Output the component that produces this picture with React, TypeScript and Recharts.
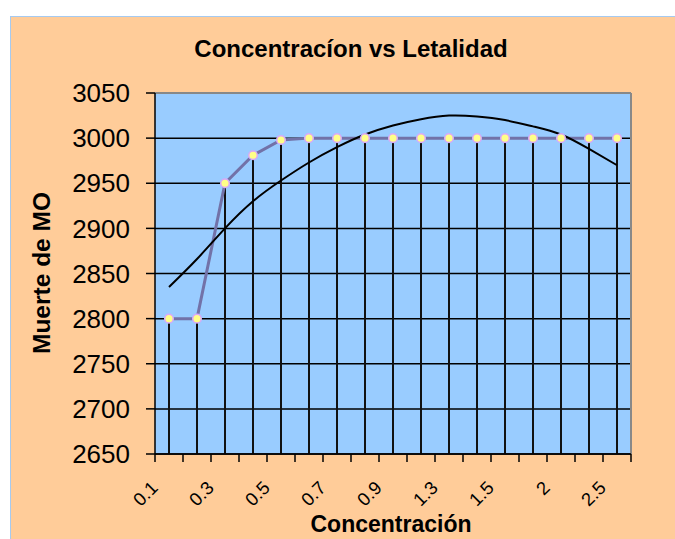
import React from "react";
import {
  ComposedChart,
  Line,
  Bar,
  XAxis,
  YAxis,
  CartesianGrid,
  ReferenceLine,
} from "recharts";

const categories = ["0.1", "0.2", "0.3", "0.4", "0.5", "0.6", "0.7", "0.8", "0.9", "1", "1.3", "1.4", "1.5", "1.8", "2", "2.3", "2.5"];
const muerteValues = [2800, 2800, 2950, 2981, 2998, 3000, 3000, 3000, 3000, 3000, 3000, 3000, 3000, 3000, 3000, 3000, 3000];
const trendValues = [2835, 2866, 2900, 2930, 2953, 2973, 2990, 3004, 3014, 3021, 3025, 3024, 3020, 3013, 3004, 2988, 2970];
const yTicks = [2650, 2700, 2750, 2800, 2850, 2900, 2950, 3000, 3050];
const xBoundaries = [-0.5, 0.5, 1.5, 2.5, 3.5, 4.5, 5.5, 6.5, 7.5, 8.5, 9.5, 10.5, 11.5, 12.5, 13.5, 14.5, 15.5, 16.5];

const data = categories.map((c, i) => ({
  idx: i,
  cat: c,
  muerte: muerteValues[i],
  trend: trendValues[i],
}));

const FONT = "'Liberation Sans', Arial, sans-serif";

const XTick = (props: any) => {
  const { x, y, payload } = props;
  const i = Math.round(payload.value + 0.5);
  if (i % 2 !== 0 || i > 16) return null;
  const ax = x + 4;
  const ay = y + 25;
  return (
    <text
      x={ax}
      y={ay}
      textAnchor="end"
      fontSize={18.5}
      fontFamily={FONT}
      fill="#000"
      transform={`rotate(-45 ${ax} ${ay})`}
    >
      {categories[i]}
    </text>
  );
};

const Dot = (props: any) => {
  const { cx, cy } = props;
  if (cx == null || cy == null) return null;
  return <circle cx={cx} cy={cy} r={4.3} fill="#FFFF88" stroke="#D8A8F8" strokeWidth={1.5} />;
};

export default function App() {
  return (
    <div style={{ position: "absolute", left: 0, top: 0, width: 675, height: 539, background: "#fff", overflow: "hidden" }}>
      <div
        style={{
          position: "absolute",
          left: 10,
          top: 16,
          width: 665,
          height: 523,
          background: "#FFCC99",
          borderLeft: "1.5px solid #A6CAF0",
          borderTop: "1.5px solid #A6CAF0",
          boxSizing: "border-box",
        }}
      />
      <div style={{ position: "absolute", left: 0, top: 0 }}>
        <ComposedChart
          width={675}
          height={539}
          data={data}
          margin={{ top: 93, right: 44, left: 0, bottom: 0 }}
        >
          <CartesianGrid vertical={false} stroke="#000" strokeWidth={1.5} fill="#99CCFF" fillOpacity={1} />
          <XAxis
            dataKey="idx"
            type="number"
            domain={[-0.5, 16.5]}
            ticks={xBoundaries}
            interval={0}
            height={85}
            tickSize={8}
            tickMargin={2}
            tick={<XTick />}
            axisLine={{ stroke: "#000", strokeWidth: 1.5 }}
            tickLine={{ stroke: "#000", strokeWidth: 1.5 }}
          />
          <YAxis
            type="number"
            domain={[2650, 3050]}
            ticks={yTicks}
            interval={0}
            width={155}
            tickSize={9}
            tickMargin={16}
            tick={{ fontSize: 26, fill: "#000", fontFamily: FONT }}
            axisLine={{ stroke: "#000", strokeWidth: 1.5 }}
            tickLine={{ stroke: "#000", strokeWidth: 1.5 }}
          />
          <ReferenceLine y={3050} stroke="#888888" strokeWidth={2} />
          <ReferenceLine x={16.5} stroke="#888888" strokeWidth={2} />
          <Bar dataKey="muerte" barSize={2} fill="#111" isAnimationActive={false} />
          <Line
            dataKey="muerte"
            type="linear"
            stroke="#7272A8"
            strokeWidth={3}
            dot={<Dot />}
            activeDot={false}
            isAnimationActive={false}
          />
          <Line
            dataKey="trend"
            type="natural"
            stroke="#000"
            strokeWidth={2}
            dot={false}
            activeDot={false}
            isAnimationActive={false}
          />
        </ComposedChart>
      </div>
      <svg width={675} height={539} style={{ position: "absolute", left: 0, top: 0, pointerEvents: "none" }}>
        <text x={351} y={57} textAnchor="middle" fontSize={24} fontWeight="bold" fontFamily={FONT} fill="#000">
          Concentracíon vs Letalidad
        </text>
        <text
          x={50}
          y={273}
          textAnchor="middle"
          fontSize={24.5}
          fontWeight="bold"
          fontFamily={FONT}
          fill="#000"
          transform="rotate(-90 50 273)"
        >
          Muerte de MO
        </text>
        <text x={391} y={532} textAnchor="middle" fontSize={23} fontWeight="bold" fontFamily={FONT} fill="#000">
          Concentración
        </text>
      </svg>
    </div>
  );
}
